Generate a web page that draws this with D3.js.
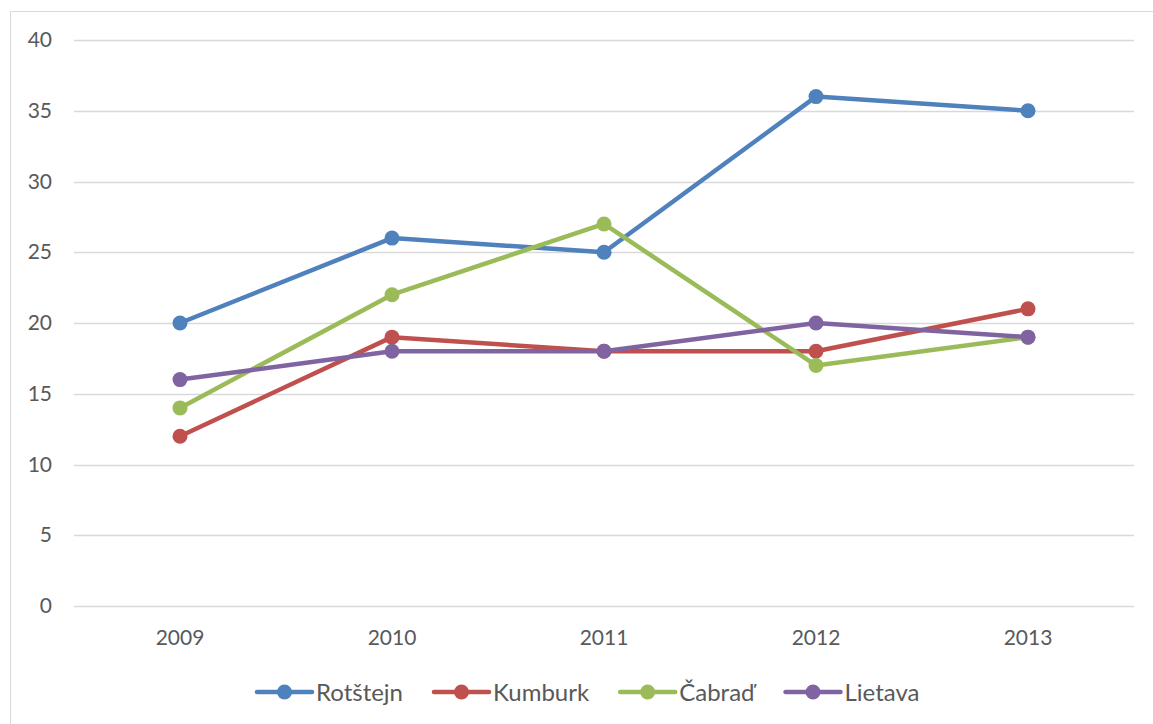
<!DOCTYPE html>
<html>
<head>
<meta charset="utf-8">
<script src="https://cdn.jsdelivr.net/npm/d3@7"></script>
<style>
  body { margin: 0; background: #fff; }
  text { font-family: Lato, "Open Sans", sans-serif; fill: #595959; }
</style>
</head>
<body>
<div id="chart"></div>
<script>
var years = ['2009', '2010', '2011', '2012', '2013'];
var seriesNames = ['Rotštejn', 'Kumburk', 'Čabraď', 'Lietava'];
var rotstejn = [20, 26, 25, 36, 35];
var kumburk = [12, 19, 18, 18, 21];
var cabrad = [14, 22, 27, 17, 19];
var lietava = [16, 18, 18, 20, 19];
var yTicks = [0, 5, 10, 15, 20, 25, 30, 35, 40];
var colors = ['#4F81BD', '#C0504D', '#9BBB59', '#8064A2'];

var allSeries = [rotstejn, kumburk, cabrad, lietava];

var W = 1153, H = 724;
var margin = { top: 40, right: 19, bottom: 118, left: 74 };
var width = W - margin.left - margin.right;
var height = H - margin.top - margin.bottom;

var svg = d3.select('#chart').append('svg')
  .attr('width', W)
  .attr('height', H);

// chart border
svg.append('rect')
  .attr('x', 10.5).attr('y', 11.5)
  .attr('width', W + 10).attr('height', H + 10)
  .attr('fill', 'none')
  .attr('stroke', '#d9d9d9')
  .attr('stroke-width', 1);

var g = svg.append('g')
  .attr('transform', 'translate(' + margin.left + ',' + margin.top + ')');

var x = d3.scaleBand().domain(years).range([0, width]);
var y = d3.scaleLinear().domain([0, 40]).range([height, 0]);

// gridlines
g.selectAll('.grid')
  .data(yTicks)
  .enter().append('line')
  .attr('x1', 0).attr('x2', width)
  .attr('y1', function (d) { return Math.round(y(d)) + 0.5; })
  .attr('y2', function (d) { return Math.round(y(d)) + 0.5; })
  .attr('stroke', '#d9d9d9')
  .attr('stroke-width', 1.3);

// y axis labels
var yAxis = g.append('g')
  .call(d3.axisLeft(y).tickValues(yTicks).tickSize(0).tickPadding(22));
yAxis.select('.domain').remove();
yAxis.selectAll('text').style('font-size', '21px').attr('fill', '#595959');

// x axis labels
var xAxis = g.append('g')
  .attr('transform', 'translate(0,' + height + ')')
  .call(d3.axisBottom(x).tickSize(0).tickPadding(24));
xAxis.select('.domain').remove();
xAxis.selectAll('text').style('font-size', '21px').attr('fill', '#595959');

var line = d3.line()
  .x(function (d, i) { return x(years[i]) + x.bandwidth() / 2; })
  .y(function (d) { return y(d); });

allSeries.forEach(function (s, k) {
  g.append('path')
    .datum(s)
    .attr('d', line)
    .attr('fill', 'none')
    .attr('stroke', colors[k])
    .attr('stroke-width', 4.5)
    .attr('stroke-linejoin', 'round')
    .attr('stroke-linecap', 'round');

  g.selectAll('.pt' + k)
    .data(s)
    .enter().append('circle')
    .attr('cx', function (d, i) { return x(years[i]) + x.bandwidth() / 2; })
    .attr('cy', function (d) { return y(d); })
    .attr('r', 7.5)
    .attr('fill', colors[k]);
});

// legend
var legend = svg.append('g').attr('transform', 'translate(0,692)');
var lx = 257;
seriesNames.forEach(function (name, k) {
  var item = legend.append('g').attr('transform', 'translate(' + lx + ',0)');
  item.append('line')
    .attr('x1', 0).attr('x2', 55)
    .attr('y1', 0).attr('y2', 0)
    .attr('stroke', colors[k])
    .attr('stroke-width', 4.5)
    .attr('stroke-linecap', 'round');
  item.append('circle')
    .attr('cx', 27.5).attr('cy', 0).attr('r', 7.5)
    .attr('fill', colors[k]);
  var t = item.append('text')
    .attr('x', 59).attr('y', 8.5)
    .style('font-size', '24px')
    .text(name);
  lx += 59 + t.node().getComputedTextLength() + 31;
});
</script>
</body>
</html>
